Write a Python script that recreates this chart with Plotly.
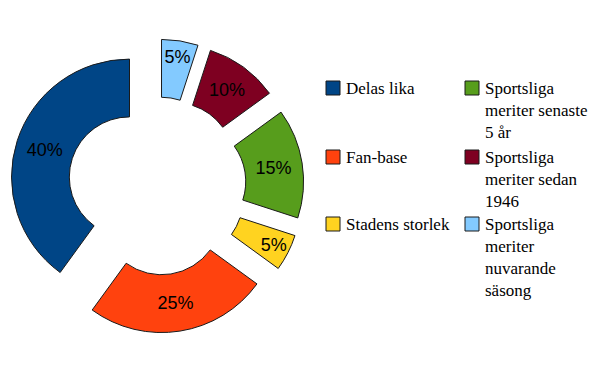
import plotly.graph_objects as go

# Data
labels = ["Delas lika", "Fan-base", "Stadens storlek",
          "Sportsliga meriter senaste 5 år",
          "Sportsliga meriter sedan 1946",
          "Sportsliga meriter nuvarande säsong"]
values = [40, 25, 5, 15, 10, 5]
colors = ["#004586", "#ff420e", "#ffd320", "#579d1c", "#7e0021", "#83caff"]
legend_text = ["Delas lika", "Fan-base", "Stadens storlek",
               "Sportsliga<br>meriter senaste<br>5 år",
               "Sportsliga<br>meriter sedan<br>1946",
               "Sportsliga<br>meriter<br>nuvarande<br>säsong"]

W, H = 616, 382

# pie geometry (pixels)
cx, cy, R, pull = 157, 186, 118, 0.245
half = R * (1 + pull)

fig = go.Figure()
fig.add_trace(go.Pie(
    labels=labels, values=values, sort=False,
    direction="counterclockwise", rotation=216,
    hole=0.51, pull=[pull] * len(values),
    marker=dict(colors=colors, line=dict(color="#1a1a1a", width=1)),
    textinfo="percent", textposition="inside",
    insidetextorientation="horizontal",
    textfont=dict(family="Liberation Sans, Arial, sans-serif", size=18, color="#000000"),
    showlegend=False, hoverinfo="label+percent",
    domain=dict(x=[(cx - half) / W, (cx + half) / W],
                y=[(H - (cy + half)) / H, (H - (cy - half)) / H]),
))

# manual two-column legend (column-major order)
col_x = [326, 465]
row_y = [81, 150, 217]
shapes, annotations = [], []
for i, (lab, col) in enumerate(zip(legend_text, colors)):
    c, r = divmod(i, 3)
    x0, y0 = col_x[c], row_y[r]
    shapes.append(dict(type="rect", xref="paper", yref="paper",
                       x0=x0 / W, x1=(x0 + 14) / W,
                       y0=(H - y0) / H, y1=(H - (y0 + 14)) / H,
                       fillcolor=col, line=dict(color="#1a1a1a", width=1)))
    annotations.append(dict(xref="paper", yref="paper",
                            x=(x0 + 18) / W, y=(H - (y0 - 4)) / H,
                            xanchor="left", yanchor="top", align="left",
                            showarrow=False, text=lab,
                            font=dict(family="Liberation Serif, Times New Roman, serif",
                                      size=17, color="#000000")))

fig.update_layout(
    width=W, height=H, margin=dict(l=0, r=0, t=0, b=0),
    paper_bgcolor="white", plot_bgcolor="white",
    shapes=shapes, annotations=annotations,
    uniformtext=dict(minsize=18, mode="show"),
)

fig.write_html("out.html")
